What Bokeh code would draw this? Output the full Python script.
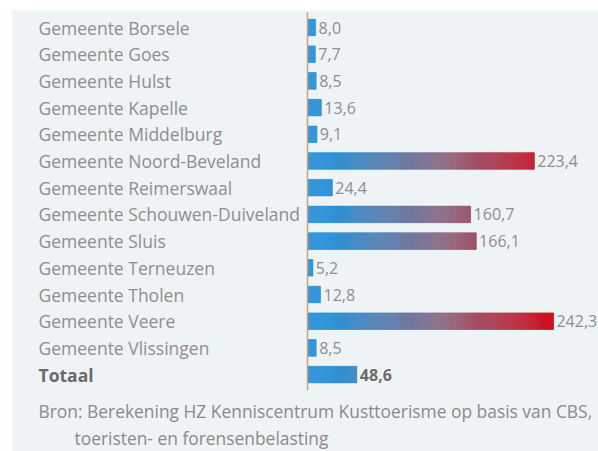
import numpy as np
from bokeh.plotting import figure
from bokeh.models import Range1d, ColumnDataSource, Label
from bokeh.embed import file_html
from bokeh.resources import INLINE
from bokeh.core.properties import value

# ---- data ----
categories = [
    "Gemeente Borsele", "Gemeente Goes", "Gemeente Hulst", "Gemeente Kapelle",
    "Gemeente Middelburg", "Gemeente Noord-Beveland", "Gemeente Reimerswaal",
    "Gemeente Schouwen-Duiveland", "Gemeente Sluis", "Gemeente Terneuzen",
    "Gemeente Tholen", "Gemeente Veere", "Gemeente Vlissingen", "Totaal",
]
values = [8.0, 7.7, 8.5, 13.6, 9.1, 223.4, 24.4, 160.7, 166.1, 5.2, 12.8, 242.3, 8.5, 48.6]
value_labels = ["8,0", "7,7", "8,5", "13,6", "9,1", "223,4", "24,4", "160,7",
                "166,1", "5,2", "12,8", "242,3", "8,5", "48,6"]
source_lines = ["Bron: Berekening HZ Kenniscentrum Kusttoerisme op basis van CBS,",
                "toeristen- en forensenbelasting"]

# ---- layout (pixels within the figure) ----
W, H = 586, 441
AXIS_PX = 295
PX_PER_UNIT = 1.015
ROW_TOP = 17
ROW_STEP = 26.7
FONT = "Open Sans"

def dx(px):
    return (px - AXIS_PX) / PX_PER_UNIT

def dy(px):
    return (px - ROW_TOP) / ROW_STEP

p = figure(width=W, height=H, x_range=Range1d(dx(0), dx(W)), y_range=Range1d(dy(H), dy(0)),
           output_backend="svg", toolbar_location=None, min_border=0, margin=(10, 0, 0, 12))
p.axis.visible = False
p.grid.visible = False
p.outline_line_color = None
p.background_fill_color = "#eef3f5"
p.border_fill_color = "#eef3f5"

stops = [(0.0, np.array([45, 146, 214])),
         (0.5, np.array([140, 108, 136])),
         (1.0, np.array([206, 16, 30]))]

def color_at(x):
    t = float(np.clip((x - 25.0) / 215.0, 0, 1))
    for (t0, c0), (t1, c1) in zip(stops[:-1], stops[1:]):
        if t <= t1:
            f = (t - t0) / (t1 - t0)
            c = c0 + (c1 - c0) * f
            break
    return "#%02x%02x%02x" % tuple(int(round(v)) for v in c)

ys, lefts, rights, cols = [], [], [], []
for i, v in enumerate(values):
    edges = list(np.arange(0, v, 1.0)) + [v]
    for a, b in zip(edges[:-1], edges[1:]):
        ys.append(i)
        lefts.append(a)
        rights.append(b)
        cols.append(color_at((a + b) / 2))
bars = ColumnDataSource(dict(y=ys, left=lefts, right=rights, c=cols))
p.hbar(y="y", left="left", right="right", height=0.62, fill_color="c", line_color="c",
       line_width=0.6, source=bars)

# axis line
p.segment(x0=[0], y0=[-0.56], x1=[0], y1=[len(values) - 1 + 0.6], line_color="#cf9f82", line_width=1.5)

n = len(categories)
idx = list(range(n))
weights = ["normal"] * (n - 1) + ["bold"]
tcols = ["#8e8e8e"] * (n - 1) + ["#6a6a6a"]
lab = ColumnDataSource(dict(x=[dx(26)] * n, y=idx, t=categories, w=weights, c=tcols))
p.text(x="x", y="y", text="t", source=lab, text_font=value(FONT), text_font_size="17.5px",
       text_font_style="w", text_color="c", text_baseline="middle", text_align="left")

vl = ColumnDataSource(dict(x=values, y=idx, t=value_labels, w=weights, c=tcols))
p.text(x="x", y="y", text="t", source=vl, text_font=value(FONT), text_font_size="16px",
       text_font_style="w", text_color="c", text_baseline="middle", text_align="left", x_offset=3)

p.add_layout(Label(x=dx(26), y=dy(400), text=source_lines[0], text_font=FONT,
                   text_font_size="17.4px", text_color="#8a8a8a", text_baseline="middle"))
p.add_layout(Label(x=dx(62), y=dy(427), text=source_lines[1], text_font=FONT,
                   text_font_size="17.4px", text_color="#8a8a8a", text_baseline="middle"))

open("out.html", "w").write(file_html(p, INLINE))
